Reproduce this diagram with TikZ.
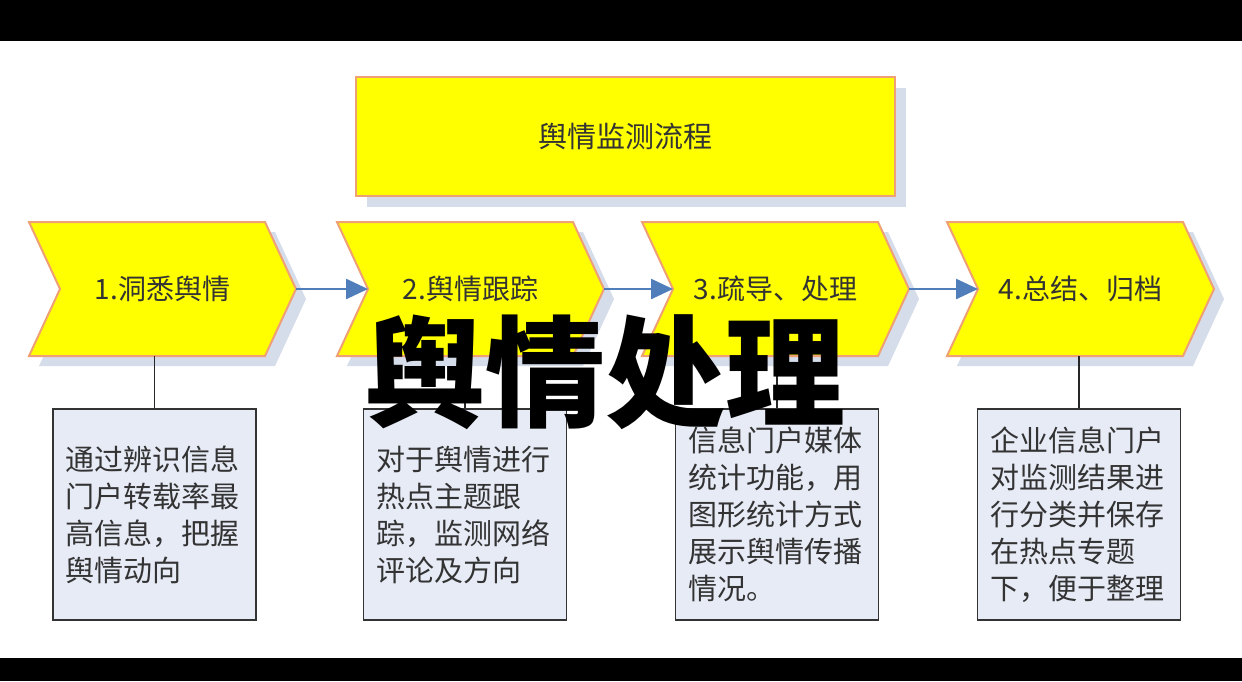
\documentclass[tikz,border=0pt]{standalone}
\usepackage{fontspec}
\newfontfamily\cjk{Noto Sans CJK SC}
\usetikzlibrary{arrows.meta}
\definecolor{chevyellow}{HTML}{FFFF00}
\definecolor{chevedge}{HTML}{EFA074}
\definecolor{shadowc}{HTML}{D5DCEA}
\definecolor{arrowc}{HTML}{4F7EBB}
\definecolor{boxfill}{HTML}{E7EBF6}
\definecolor{textc}{HTML}{333333}
\tikzset{
  titlebox/.style={fill=chevyellow, draw=chevedge, line width=2pt, minimum width=539pt, minimum height=119pt, inner sep=0pt, font=\cjk\fontsize{29}{34}\selectfont, text=textc},
  chevshape/.style={fill=chevyellow, draw=chevedge, line width=2pt, line join=miter},
  chevshadow/.style={fill=shadowc},
  chevtext/.style={font=\cjk\fontsize{28}{32}\selectfont, text=textc, inner sep=0pt},
  flow/.style={draw=arrowc, line width=2.5pt, -{Triangle[length=22pt,width=20pt]}},
  conn/.style={draw=black!85, line width=1.5pt},
  descbox/.style={fill=boxfill, draw=black!80, line width=1.5pt, minimum width=203pt, minimum height=211pt, inner sep=0pt, text width=178pt, align=left, font=\cjk\fontsize{29}{37}\selectfont, text=textc},
  bigtext/.style={font=\cjk\bfseries\fontsize{120}{130}\selectfont, text=black, inner sep=0pt}
}
\begin{document}
\begin{tikzpicture}[x=1pt,y=-1pt]
\fill[black] (0,0) rectangle (1242,681);
\fill[white] (0,41) rectangle (1242,658);
\useasboundingbox (0,0) rectangle (1242,681);
% title
\fill[chevshadow] (367,88) rectangle (906,207);
\node[titlebox] (title) at (625.5,136.5) {舆情监测流程};
% chevron shadows
\foreach \x in {29,337,642,947} {
  \fill[chevshadow, shift={(10,10)}] (\x,222) -- ++(236,0) -- ++(31,67) -- ++(-31,67) -- ++(-236,0) -- ++(31,-67) -- cycle;
}
% description boxes
\node[descbox] (b1) at (154.5,514.5) {通过辨识信息\\门户转载率最\\高信息，把握\\舆情动向};
\node[descbox] (b2) at (465,514.5) {对于舆情进行\\热点主题跟\\踪，监测网络\\评论及方向};
\node[descbox] (b3) at (777,514.5) {信息门户媒体\\统计功能，用\\图形统计方式\\展示舆情传播\\情况。};
\node[descbox] (b4) at (1079,514.5) {企业信息门户\\对监测结果进\\行分类并保存\\在热点专题\\下，便于整理};
% chevrons
\foreach \x/\n/\t in {29/1/{1.洞悉舆情}, 337/2/{2.舆情跟踪}, 642/3/{3.疏导、处理}, 947/4/{4.总结、归档}} {
  \draw[chevshape] (\x,222) -- ++(236,0) -- ++(31,67) -- ++(-31,67) -- ++(-236,0) -- ++(31,-67) -- cycle;
  \coordinate (tip\n) at (\x+267,289);
  \coordinate (notch\n) at (\x+31,289);
  \coordinate (bot\n) at (\x+133.5,356);
  \node[chevtext] (c\n) at (\x+133.5,289) {\t};
}
% connectors
\foreach \n in {1,2,3,4} {
  \draw[conn] (b\n.north) -- (b\n.north |- bot\n);
}
\draw[flow] (tip1) -- (notch2);
\draw[flow] (tip2) -- (notch3);
\draw[flow] (tip3) -- (notch4);
% overlay title
\node[bigtext] (big) at (605,372) {舆情处理};
\end{tikzpicture}
\end{document}
